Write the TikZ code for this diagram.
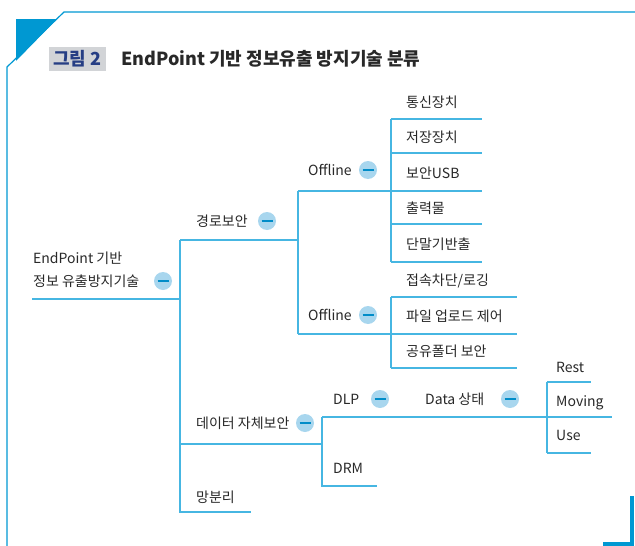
\documentclass[tikz,border=0pt]{standalone}
\usepackage{fontspec}
\setmainfont{Noto Sans CJK KR}
\definecolor{frameblue}{RGB}{0,152,210}
\definecolor{treeblue}{RGB}{70,182,226}
\definecolor{minusfill}{RGB}{168,214,238}
\definecolor{minusbar}{RGB}{0,140,200}
\definecolor{titlegray}{RGB}{210,212,215}
\definecolor{titlenavy}{RGB}{38,62,132}
\definecolor{txt}{RGB}{40,40,40}
\tikzset{
  lbl/.style={anchor=west, inner sep=0pt, text height=10.5pt, text depth=0pt, text=txt,
    font=\fontsize{14}{16}\selectfont},
  tline/.style={draw=treeblue, line width=1.4pt},
  minus/.style={circle, fill=minusfill, minimum size=18pt, inner sep=0pt,
    path picture={\draw[minusbar, line width=2.6pt] ([xshift=-5.5pt]path picture bounding box.center) -- ([xshift=5.5pt]path picture bounding box.center);}},
}
\begin{document}
\begin{tikzpicture}[x=1pt,y=-1pt]
\useasboundingbox (0,0) rectangle (635,546);
% frame
\fill[frameblue] (16,19) -- (57,19) -- (16,61) -- cycle;
\draw[frameblue, line width=1.2pt] (635,12) -- (64,12) -- (7,67) -- (7,546);
\draw[frameblue, line width=4pt] (603,544) -- (632,544) -- (632,496);
% title
\node[fill=titlegray, minimum width=57pt, minimum height=24pt, inner sep=0pt, text=titlenavy,
  font=\fontsize{18}{20}\bfseries\selectfont] (fig) at (77.5,58.5) {그림 2};
\node[anchor=west, inner sep=0pt, font=\fontsize{18}{20}\bfseries\selectfont, text=txt] (title) at (121,58.5) {EndPoint 기반 정보유출 방지기술 분류};
% coordinates
\coordinate (rootL) at (32,299);
\coordinate (trT) at (180,240);
\coordinate (trR) at (180,299);
\coordinate (trD) at (180,444);
\coordinate (trB) at (180,512);
\coordinate (m1) at (251,512);
\coordinate (vA) at (298,240);
\coordinate (vAt) at (298,191);
\coordinate (vAb) at (298,334);
\coordinate (lAt) at (391,119);
\coordinate (lA2) at (391,153);
\coordinate (lA4) at (391,224);
\coordinate (lAb) at (391,262);
\coordinate (lBt) at (391,297);
\coordinate (lBb) at (391,368);
\coordinate (vD) at (322,444);
\coordinate (vDt) at (322,417);
\coordinate (vDb) at (322,486);
\coordinate (drmR) at (377,486);
\coordinate (dlt) at (547,382);
\coordinate (dlb) at (547,453);
% lines
\draw[tline] (rootL) -- (trR);
\draw[tline] (trT) -- (trB) -- (m1);
\draw[tline] (trT) -- (vA);
\draw[tline] (vAt) -- (vAb);
\draw[tline] (vAt) -- (482,191);
\draw[tline] (lAt) -- (lAb);
\draw[tline] (lAt) -- (482,119);
\draw[tline] (lA2) -- (482,153);
\draw[tline] (lA4) -- (482,224);
\draw[tline] (lAb) -- (482,262);
\draw[tline] (vAb) -- (517,334);
\draw[tline] (lBt) -- (lBb);
\draw[tline] (lBt) -- (517,297);
\draw[tline] (lBb) -- (517,368);
\draw[tline] (trD) -- (vD);
\draw[tline] (vDt) -- (vDb) -- (drmR);
\draw[tline] (vDt) -- (612,417);
\draw[tline] (dlt) -- (dlb);
\draw[tline] (dlt) -- (591,382);
\draw[tline] (dlb) -- (591,453);
% root
\node[lbl] (root1) at (33,258) {EndPoint 기반};
\node[lbl] (root2) at (33,281) {정보 유출방지기술};
\node[minus] (mr) at (163,281) {};
% level 1
\node[lbl] (gr) at (196,221) {경로보안};
\node[minus] (mgr) at (267,221) {};
\node[lbl] (dt) at (196,423) {데이터 자체보안};
\node[minus] (mdt) at (305,423) {};
\node[lbl] (mb) at (196,497) {망분리};
% level 2
\node[lbl] (off1) at (308,170) {Offline};
\node[minus] (moff1) at (368,170) {};
\node[lbl] (off2) at (308,315) {Offline};
\node[minus] (moff2) at (368,315) {};
\node[lbl] (dlp) at (333,399) {DLP};
\node[minus] (mdlp) at (380,399) {};
\node[lbl] (drm) at (333,468) {DRM};
% level 3
\node[lbl] (a1) at (406,102) {통신장치};
\node[lbl] (a2) at (406,137) {저장장치};
\node[lbl] (a3) at (406,173) {보안USB};
\node[lbl] (a4) at (406,208) {출력물};
\node[lbl] (a5) at (406,244) {단말기반출};
\node[lbl] (b1) at (406,280) {접속차단/로깅};
\node[lbl] (b2) at (406,316) {파일 업로드 제어};
\node[lbl] (b3) at (406,351) {공유폴더 보안};
\node[lbl] (ds) at (425,399) {Data 상태};
\node[minus] (mds) at (510,399) {};
\node[lbl] (c1) at (556,367) {Rest};
\node[lbl] (c2) at (556,401) {Moving};
\node[lbl] (c3) at (556,435) {Use};
\end{tikzpicture}
\end{document}
